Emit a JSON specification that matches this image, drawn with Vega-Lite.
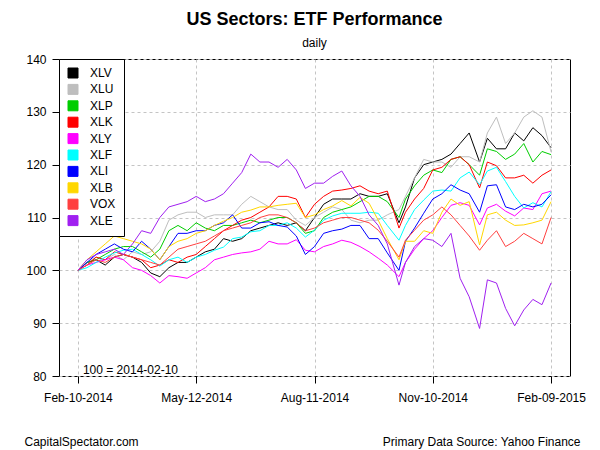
{
"$schema": "https://vega.github.io/schema/vega-lite/v6.json",
"width": 511, "height": 317,
"autosize": {"type": "none"},
"padding": {"left": 59, "top": 59, "right": 30, "bottom": 74},
"background": "white",
"title": {"text": "US Sectors: ETF Performance", "subtitle": "daily", "anchor": "middle", "frame": "group", "fontSize": 18, "fontWeight": "bold", "font": "Liberation Sans", "color": "black", "subtitleFontSize": 12, "subtitleFont": "Liberation Sans", "subtitleColor": "black", "offset": 4, "subtitlePadding": 9},
"config": {
 "font": "Liberation Sans",
 "view": {"stroke": "black", "strokeWidth": 1},
 "axis": {"domain": false, "tickColor": "black", "tickSize": 7, "tickWidth": 1, "labelColor": "black", "labelFontSize": 12, "labelFont": "Liberation Sans", "grid": true, "gridColor": "#C4C4C4", "gridDash": [3,3], "gridWidth": 1, "titleColor": "black", "titleFont": "Liberation Sans", "titleFontSize": 12, "titleFontWeight": "normal"}
},
"layer": [
{
 "data": {"values": [
{"d":"2014-02-10","s":"XLV","v":100},{"d":"2014-02-17","s":"XLV","v":101.5},{"d":"2014-02-24","s":"XLV","v":102},{"d":"2014-03-03","s":"XLV","v":101},{"d":"2014-03-10","s":"XLV","v":102.5},{"d":"2014-03-17","s":"XLV","v":103},{"d":"2014-03-24","s":"XLV","v":102.5},{"d":"2014-03-31","s":"XLV","v":101.5},{"d":"2014-04-07","s":"XLV","v":99.5},{"d":"2014-04-14","s":"XLV","v":98.8},{"d":"2014-04-21","s":"XLV","v":100.5},{"d":"2014-04-28","s":"XLV","v":101.5},{"d":"2014-05-05","s":"XLV","v":101.5},{"d":"2014-05-12","s":"XLV","v":102.5},{"d":"2014-05-19","s":"XLV","v":103.5},{"d":"2014-05-26","s":"XLV","v":104},{"d":"2014-06-02","s":"XLV","v":106},{"d":"2014-06-09","s":"XLV","v":105.5},{"d":"2014-06-16","s":"XLV","v":106},{"d":"2014-06-23","s":"XLV","v":107.5},{"d":"2014-06-30","s":"XLV","v":108},{"d":"2014-07-07","s":"XLV","v":108.5},{"d":"2014-07-14","s":"XLV","v":109},{"d":"2014-07-21","s":"XLV","v":108.5},{"d":"2014-07-28","s":"XLV","v":109},{"d":"2014-08-04","s":"XLV","v":107.5},{"d":"2014-08-11","s":"XLV","v":110},{"d":"2014-08-18","s":"XLV","v":112.5},{"d":"2014-08-25","s":"XLV","v":113.5},{"d":"2014-09-01","s":"XLV","v":113.5},{"d":"2014-09-08","s":"XLV","v":113.5},{"d":"2014-09-15","s":"XLV","v":114.5},{"d":"2014-09-22","s":"XLV","v":114},{"d":"2014-09-29","s":"XLV","v":114},{"d":"2014-10-06","s":"XLV","v":114.5},{"d":"2014-10-15","s":"XLV","v":109},{"d":"2014-10-20","s":"XLV","v":112},{"d":"2014-10-27","s":"XLV","v":117.5},{"d":"2014-11-03","s":"XLV","v":120},{"d":"2014-11-10","s":"XLV","v":120.5},{"d":"2014-11-17","s":"XLV","v":121},{"d":"2014-11-24","s":"XLV","v":122},{"d":"2014-12-01","s":"XLV","v":124},{"d":"2014-12-08","s":"XLV","v":126},{"d":"2014-12-16","s":"XLV","v":120.5},{"d":"2014-12-22","s":"XLV","v":125},{"d":"2014-12-29","s":"XLV","v":123},{"d":"2015-01-05","s":"XLV","v":123},{"d":"2015-01-12","s":"XLV","v":126},{"d":"2015-01-19","s":"XLV","v":124.5},{"d":"2015-01-26","s":"XLV","v":127},{"d":"2015-02-02","s":"XLV","v":125.5},{"d":"2015-02-09","s":"XLV","v":123.2},
{"d":"2014-02-10","s":"XLU","v":100},{"d":"2014-02-17","s":"XLU","v":101.5},{"d":"2014-02-24","s":"XLU","v":102.5},{"d":"2014-03-03","s":"XLU","v":102},{"d":"2014-03-10","s":"XLU","v":103},{"d":"2014-03-17","s":"XLU","v":102},{"d":"2014-03-24","s":"XLU","v":103.5},{"d":"2014-03-31","s":"XLU","v":103},{"d":"2014-04-07","s":"XLU","v":103.5},{"d":"2014-04-14","s":"XLU","v":105.5},{"d":"2014-04-21","s":"XLU","v":109.5},{"d":"2014-04-28","s":"XLU","v":110.5},{"d":"2014-05-05","s":"XLU","v":111},{"d":"2014-05-12","s":"XLU","v":111},{"d":"2014-05-19","s":"XLU","v":110},{"d":"2014-05-26","s":"XLU","v":110.5},{"d":"2014-06-02","s":"XLU","v":110.5},{"d":"2014-06-09","s":"XLU","v":110.5},{"d":"2014-06-16","s":"XLU","v":112.5},{"d":"2014-06-23","s":"XLU","v":114},{"d":"2014-06-30","s":"XLU","v":113},{"d":"2014-07-07","s":"XLU","v":112},{"d":"2014-07-14","s":"XLU","v":111.5},{"d":"2014-07-21","s":"XLU","v":111.5},{"d":"2014-07-28","s":"XLU","v":109.5},{"d":"2014-08-04","s":"XLU","v":108.5},{"d":"2014-08-11","s":"XLU","v":110},{"d":"2014-08-18","s":"XLU","v":111},{"d":"2014-08-25","s":"XLU","v":112},{"d":"2014-09-01","s":"XLU","v":111.5},{"d":"2014-09-08","s":"XLU","v":109.5},{"d":"2014-09-15","s":"XLU","v":109},{"d":"2014-09-22","s":"XLU","v":109.5},{"d":"2014-09-29","s":"XLU","v":109.5},{"d":"2014-10-06","s":"XLU","v":110.5},{"d":"2014-10-15","s":"XLU","v":111.5},{"d":"2014-10-20","s":"XLU","v":114},{"d":"2014-10-27","s":"XLU","v":117.5},{"d":"2014-11-03","s":"XLU","v":121},{"d":"2014-11-10","s":"XLU","v":120.5},{"d":"2014-11-17","s":"XLU","v":120.5},{"d":"2014-11-24","s":"XLU","v":119.5},{"d":"2014-12-01","s":"XLU","v":121.5},{"d":"2014-12-08","s":"XLU","v":121.5},{"d":"2014-12-16","s":"XLU","v":120.5},{"d":"2014-12-22","s":"XLU","v":126},{"d":"2014-12-29","s":"XLU","v":129},{"d":"2015-01-05","s":"XLU","v":124},{"d":"2015-01-12","s":"XLU","v":126},{"d":"2015-01-19","s":"XLU","v":129},{"d":"2015-01-26","s":"XLU","v":130.2},{"d":"2015-02-02","s":"XLU","v":129},{"d":"2015-02-09","s":"XLU","v":122.4},
{"d":"2014-02-10","s":"XLP","v":100},{"d":"2014-02-17","s":"XLP","v":101.5},{"d":"2014-02-24","s":"XLP","v":102},{"d":"2014-03-03","s":"XLP","v":103},{"d":"2014-03-10","s":"XLP","v":104},{"d":"2014-03-17","s":"XLP","v":104.5},{"d":"2014-03-24","s":"XLP","v":104.5},{"d":"2014-03-31","s":"XLP","v":103.5},{"d":"2014-04-07","s":"XLP","v":102.5},{"d":"2014-04-14","s":"XLP","v":104},{"d":"2014-04-21","s":"XLP","v":107.5},{"d":"2014-04-28","s":"XLP","v":108.5},{"d":"2014-05-05","s":"XLP","v":107.5},{"d":"2014-05-12","s":"XLP","v":109},{"d":"2014-05-19","s":"XLP","v":108},{"d":"2014-05-26","s":"XLP","v":107.5},{"d":"2014-06-02","s":"XLP","v":108.5},{"d":"2014-06-09","s":"XLP","v":108.5},{"d":"2014-06-16","s":"XLP","v":109},{"d":"2014-06-23","s":"XLP","v":109.5},{"d":"2014-06-30","s":"XLP","v":109},{"d":"2014-07-07","s":"XLP","v":109.5},{"d":"2014-07-14","s":"XLP","v":110},{"d":"2014-07-21","s":"XLP","v":110},{"d":"2014-07-28","s":"XLP","v":109},{"d":"2014-08-04","s":"XLP","v":107},{"d":"2014-08-11","s":"XLP","v":107.5},{"d":"2014-08-18","s":"XLP","v":110},{"d":"2014-08-25","s":"XLP","v":111},{"d":"2014-09-01","s":"XLP","v":111.5},{"d":"2014-09-08","s":"XLP","v":112},{"d":"2014-09-15","s":"XLP","v":113},{"d":"2014-09-22","s":"XLP","v":114},{"d":"2014-09-29","s":"XLP","v":114},{"d":"2014-10-06","s":"XLP","v":113},{"d":"2014-10-15","s":"XLP","v":110},{"d":"2014-10-20","s":"XLP","v":113.5},{"d":"2014-10-27","s":"XLP","v":116},{"d":"2014-11-03","s":"XLP","v":118},{"d":"2014-11-10","s":"XLP","v":119},{"d":"2014-11-17","s":"XLP","v":118.5},{"d":"2014-11-24","s":"XLP","v":121},{"d":"2014-12-01","s":"XLP","v":121.5},{"d":"2014-12-08","s":"XLP","v":120},{"d":"2014-12-16","s":"XLP","v":118},{"d":"2014-12-22","s":"XLP","v":123},{"d":"2014-12-29","s":"XLP","v":122.5},{"d":"2015-01-05","s":"XLP","v":121},{"d":"2015-01-12","s":"XLP","v":122},{"d":"2015-01-19","s":"XLP","v":124},{"d":"2015-01-26","s":"XLP","v":120.5},{"d":"2015-02-02","s":"XLP","v":122.5},{"d":"2015-02-09","s":"XLP","v":121.9},
{"d":"2014-02-10","s":"XLK","v":100},{"d":"2014-02-17","s":"XLK","v":101},{"d":"2014-02-24","s":"XLK","v":102.5},{"d":"2014-03-03","s":"XLK","v":102},{"d":"2014-03-10","s":"XLK","v":103.5},{"d":"2014-03-17","s":"XLK","v":103},{"d":"2014-03-24","s":"XLK","v":102.5},{"d":"2014-03-31","s":"XLK","v":102},{"d":"2014-04-07","s":"XLK","v":100.5},{"d":"2014-04-14","s":"XLK","v":101},{"d":"2014-04-21","s":"XLK","v":102},{"d":"2014-04-28","s":"XLK","v":101.5},{"d":"2014-05-05","s":"XLK","v":102.5},{"d":"2014-05-12","s":"XLK","v":103},{"d":"2014-05-19","s":"XLK","v":104.5},{"d":"2014-05-26","s":"XLK","v":106},{"d":"2014-06-02","s":"XLK","v":107.5},{"d":"2014-06-09","s":"XLK","v":108.5},{"d":"2014-06-16","s":"XLK","v":109.5},{"d":"2014-06-23","s":"XLK","v":110},{"d":"2014-06-30","s":"XLK","v":111},{"d":"2014-07-07","s":"XLK","v":112},{"d":"2014-07-14","s":"XLK","v":114},{"d":"2014-07-21","s":"XLK","v":114},{"d":"2014-07-28","s":"XLK","v":113.5},{"d":"2014-08-04","s":"XLK","v":110},{"d":"2014-08-11","s":"XLK","v":112.5},{"d":"2014-08-18","s":"XLK","v":114},{"d":"2014-08-25","s":"XLK","v":115},{"d":"2014-09-01","s":"XLK","v":115.2},{"d":"2014-09-08","s":"XLK","v":115.5},{"d":"2014-09-15","s":"XLK","v":116},{"d":"2014-09-22","s":"XLK","v":115},{"d":"2014-09-29","s":"XLK","v":114.5},{"d":"2014-10-06","s":"XLK","v":115},{"d":"2014-10-15","s":"XLK","v":108},{"d":"2014-10-20","s":"XLK","v":111},{"d":"2014-10-27","s":"XLK","v":113.5},{"d":"2014-11-03","s":"XLK","v":115.5},{"d":"2014-11-10","s":"XLK","v":119},{"d":"2014-11-17","s":"XLK","v":119.5},{"d":"2014-11-24","s":"XLK","v":121},{"d":"2014-12-01","s":"XLK","v":121.5},{"d":"2014-12-08","s":"XLK","v":120},{"d":"2014-12-16","s":"XLK","v":115.6},{"d":"2014-12-22","s":"XLK","v":120.5},{"d":"2014-12-29","s":"XLK","v":119.8},{"d":"2015-01-05","s":"XLK","v":117.5},{"d":"2015-01-12","s":"XLK","v":117.5},{"d":"2015-01-19","s":"XLK","v":118},{"d":"2015-01-26","s":"XLK","v":116.5},{"d":"2015-02-02","s":"XLK","v":118},{"d":"2015-02-09","s":"XLK","v":119},
{"d":"2014-02-10","s":"XLY","v":100},{"d":"2014-02-17","s":"XLY","v":101},{"d":"2014-02-24","s":"XLY","v":101.5},{"d":"2014-03-03","s":"XLY","v":102},{"d":"2014-03-10","s":"XLY","v":102.5},{"d":"2014-03-17","s":"XLY","v":102},{"d":"2014-03-24","s":"XLY","v":100.5},{"d":"2014-03-31","s":"XLY","v":100},{"d":"2014-04-07","s":"XLY","v":99},{"d":"2014-04-14","s":"XLY","v":97.6},{"d":"2014-04-21","s":"XLY","v":99},{"d":"2014-04-28","s":"XLY","v":98.8},{"d":"2014-05-05","s":"XLY","v":98.5},{"d":"2014-05-12","s":"XLY","v":99.5},{"d":"2014-05-19","s":"XLY","v":100.5},{"d":"2014-05-26","s":"XLY","v":102},{"d":"2014-06-02","s":"XLY","v":102.5},{"d":"2014-06-09","s":"XLY","v":103},{"d":"2014-06-16","s":"XLY","v":103.3},{"d":"2014-06-23","s":"XLY","v":103.5},{"d":"2014-06-30","s":"XLY","v":104},{"d":"2014-07-07","s":"XLY","v":105.5},{"d":"2014-07-14","s":"XLY","v":105},{"d":"2014-07-21","s":"XLY","v":105},{"d":"2014-07-28","s":"XLY","v":105.8},{"d":"2014-08-04","s":"XLY","v":103.8},{"d":"2014-08-11","s":"XLY","v":103.5},{"d":"2014-08-18","s":"XLY","v":104.5},{"d":"2014-08-25","s":"XLY","v":105},{"d":"2014-09-01","s":"XLY","v":105.7},{"d":"2014-09-08","s":"XLY","v":105.3},{"d":"2014-09-15","s":"XLY","v":104.5},{"d":"2014-09-22","s":"XLY","v":103.5},{"d":"2014-09-29","s":"XLY","v":102.3},{"d":"2014-10-06","s":"XLY","v":101},{"d":"2014-10-15","s":"XLY","v":98.8},{"d":"2014-10-20","s":"XLY","v":101.5},{"d":"2014-10-27","s":"XLY","v":104},{"d":"2014-11-03","s":"XLY","v":106},{"d":"2014-11-10","s":"XLY","v":107.5},{"d":"2014-11-17","s":"XLY","v":110},{"d":"2014-11-24","s":"XLY","v":112.3},{"d":"2014-12-01","s":"XLY","v":112.8},{"d":"2014-12-08","s":"XLY","v":112.3},{"d":"2014-12-16","s":"XLY","v":108.6},{"d":"2014-12-22","s":"XLY","v":111.8},{"d":"2014-12-29","s":"XLY","v":112.5},{"d":"2015-01-05","s":"XLY","v":111.2},{"d":"2015-01-12","s":"XLY","v":110.3},{"d":"2015-01-19","s":"XLY","v":111.8},{"d":"2015-01-26","s":"XLY","v":111.5},{"d":"2015-02-02","s":"XLY","v":114.5},{"d":"2015-02-09","s":"XLY","v":115},
{"d":"2014-02-10","s":"XLF","v":100},{"d":"2014-02-17","s":"XLF","v":100.5},{"d":"2014-02-24","s":"XLF","v":101.5},{"d":"2014-03-03","s":"XLF","v":102.5},{"d":"2014-03-10","s":"XLF","v":103.3},{"d":"2014-03-17","s":"XLF","v":103.8},{"d":"2014-03-24","s":"XLF","v":104},{"d":"2014-03-31","s":"XLF","v":103},{"d":"2014-04-07","s":"XLF","v":102},{"d":"2014-04-14","s":"XLF","v":100.8},{"d":"2014-04-21","s":"XLF","v":102},{"d":"2014-04-28","s":"XLF","v":102.5},{"d":"2014-05-05","s":"XLF","v":101.5},{"d":"2014-05-12","s":"XLF","v":102.5},{"d":"2014-05-19","s":"XLF","v":103},{"d":"2014-05-26","s":"XLF","v":103.8},{"d":"2014-06-02","s":"XLF","v":104.4},{"d":"2014-06-09","s":"XLF","v":106},{"d":"2014-06-16","s":"XLF","v":106.3},{"d":"2014-06-23","s":"XLF","v":107.3},{"d":"2014-06-30","s":"XLF","v":107.5},{"d":"2014-07-07","s":"XLF","v":108.5},{"d":"2014-07-14","s":"XLF","v":108.5},{"d":"2014-07-21","s":"XLF","v":109},{"d":"2014-07-28","s":"XLF","v":108},{"d":"2014-08-04","s":"XLF","v":106.3},{"d":"2014-08-11","s":"XLF","v":107.6},{"d":"2014-08-18","s":"XLF","v":109.5},{"d":"2014-08-25","s":"XLF","v":110.3},{"d":"2014-09-01","s":"XLF","v":110.8},{"d":"2014-09-08","s":"XLF","v":110.8},{"d":"2014-09-15","s":"XLF","v":110.8},{"d":"2014-09-22","s":"XLF","v":111},{"d":"2014-09-29","s":"XLF","v":110.8},{"d":"2014-10-06","s":"XLF","v":108.5},{"d":"2014-10-15","s":"XLF","v":105.7},{"d":"2014-10-20","s":"XLF","v":108.5},{"d":"2014-10-27","s":"XLF","v":111.5},{"d":"2014-11-03","s":"XLF","v":113.3},{"d":"2014-11-10","s":"XLF","v":115},{"d":"2014-11-17","s":"XLF","v":115.2},{"d":"2014-11-24","s":"XLF","v":115},{"d":"2014-12-01","s":"XLF","v":117.5},{"d":"2014-12-08","s":"XLF","v":118.6},{"d":"2014-12-16","s":"XLF","v":116.2},{"d":"2014-12-22","s":"XLF","v":118.8},{"d":"2014-12-29","s":"XLF","v":119.5},{"d":"2015-01-05","s":"XLF","v":116.8},{"d":"2015-01-12","s":"XLF","v":114},{"d":"2015-01-19","s":"XLF","v":111.8},{"d":"2015-01-26","s":"XLF","v":112.8},{"d":"2015-02-02","s":"XLF","v":112},{"d":"2015-02-09","s":"XLF","v":114.9},
{"d":"2014-02-10","s":"XLI","v":100},{"d":"2014-02-17","s":"XLI","v":101.5},{"d":"2014-02-24","s":"XLI","v":103},{"d":"2014-03-03","s":"XLI","v":104},{"d":"2014-03-10","s":"XLI","v":105},{"d":"2014-03-17","s":"XLI","v":104},{"d":"2014-03-24","s":"XLI","v":103.5},{"d":"2014-03-31","s":"XLI","v":105.5},{"d":"2014-04-07","s":"XLI","v":104},{"d":"2014-04-14","s":"XLI","v":102},{"d":"2014-04-21","s":"XLI","v":104.5},{"d":"2014-04-28","s":"XLI","v":107},{"d":"2014-05-05","s":"XLI","v":107},{"d":"2014-05-12","s":"XLI","v":107.5},{"d":"2014-05-19","s":"XLI","v":107.5},{"d":"2014-05-26","s":"XLI","v":108.5},{"d":"2014-06-02","s":"XLI","v":109},{"d":"2014-06-09","s":"XLI","v":110.5},{"d":"2014-06-16","s":"XLI","v":108},{"d":"2014-06-23","s":"XLI","v":108},{"d":"2014-06-30","s":"XLI","v":109},{"d":"2014-07-07","s":"XLI","v":109.2},{"d":"2014-07-14","s":"XLI","v":108.5},{"d":"2014-07-21","s":"XLI","v":108.2},{"d":"2014-07-28","s":"XLI","v":106.5},{"d":"2014-08-04","s":"XLI","v":103},{"d":"2014-08-11","s":"XLI","v":104.5},{"d":"2014-08-18","s":"XLI","v":107},{"d":"2014-08-25","s":"XLI","v":107.5},{"d":"2014-09-01","s":"XLI","v":107.8},{"d":"2014-09-08","s":"XLI","v":108.5},{"d":"2014-09-15","s":"XLI","v":108.5},{"d":"2014-09-22","s":"XLI","v":106},{"d":"2014-09-29","s":"XLI","v":106},{"d":"2014-10-06","s":"XLI","v":103.3},{"d":"2014-10-15","s":"XLI","v":100},{"d":"2014-10-20","s":"XLI","v":105.5},{"d":"2014-10-27","s":"XLI","v":108},{"d":"2014-11-03","s":"XLI","v":110.8},{"d":"2014-11-10","s":"XLI","v":113.5},{"d":"2014-11-17","s":"XLI","v":114.5},{"d":"2014-11-24","s":"XLI","v":116.2},{"d":"2014-12-01","s":"XLI","v":115.2},{"d":"2014-12-08","s":"XLI","v":114.5},{"d":"2014-12-16","s":"XLI","v":111},{"d":"2014-12-22","s":"XLI","v":116},{"d":"2014-12-29","s":"XLI","v":116.2},{"d":"2015-01-05","s":"XLI","v":112},{"d":"2015-01-12","s":"XLI","v":111.5},{"d":"2015-01-19","s":"XLI","v":112.5},{"d":"2015-01-26","s":"XLI","v":112},{"d":"2015-02-02","s":"XLI","v":112.5},{"d":"2015-02-09","s":"XLI","v":114.3},
{"d":"2014-02-10","s":"XLB","v":100},{"d":"2014-02-17","s":"XLB","v":102},{"d":"2014-02-24","s":"XLB","v":103.5},{"d":"2014-03-03","s":"XLB","v":105},{"d":"2014-03-10","s":"XLB","v":106.5},{"d":"2014-03-17","s":"XLB","v":106},{"d":"2014-03-24","s":"XLB","v":105.5},{"d":"2014-03-31","s":"XLB","v":105},{"d":"2014-04-07","s":"XLB","v":104},{"d":"2014-04-14","s":"XLB","v":102},{"d":"2014-04-21","s":"XLB","v":104.5},{"d":"2014-04-28","s":"XLB","v":105.5},{"d":"2014-05-05","s":"XLB","v":106},{"d":"2014-05-12","s":"XLB","v":107},{"d":"2014-05-19","s":"XLB","v":107.5},{"d":"2014-05-26","s":"XLB","v":108.5},{"d":"2014-06-02","s":"XLB","v":109.3},{"d":"2014-06-09","s":"XLB","v":110},{"d":"2014-06-16","s":"XLB","v":111},{"d":"2014-06-23","s":"XLB","v":111.4},{"d":"2014-06-30","s":"XLB","v":112},{"d":"2014-07-07","s":"XLB","v":112},{"d":"2014-07-14","s":"XLB","v":112.3},{"d":"2014-07-21","s":"XLB","v":112.5},{"d":"2014-07-28","s":"XLB","v":112.7},{"d":"2014-08-04","s":"XLB","v":110},{"d":"2014-08-11","s":"XLB","v":110.5},{"d":"2014-08-18","s":"XLB","v":111.5},{"d":"2014-08-25","s":"XLB","v":112.2},{"d":"2014-09-01","s":"XLB","v":113.2},{"d":"2014-09-08","s":"XLB","v":112.2},{"d":"2014-09-15","s":"XLB","v":113.8},{"d":"2014-09-22","s":"XLB","v":112.7},{"d":"2014-09-29","s":"XLB","v":109.5},{"d":"2014-10-06","s":"XLB","v":106},{"d":"2014-10-15","s":"XLB","v":102},{"d":"2014-10-20","s":"XLB","v":105.5},{"d":"2014-10-27","s":"XLB","v":105.5},{"d":"2014-11-03","s":"XLB","v":107.5},{"d":"2014-11-10","s":"XLB","v":107},{"d":"2014-11-17","s":"XLB","v":111},{"d":"2014-11-24","s":"XLB","v":113.5},{"d":"2014-12-01","s":"XLB","v":112.3},{"d":"2014-12-08","s":"XLB","v":113},{"d":"2014-12-16","s":"XLB","v":104.8},{"d":"2014-12-22","s":"XLB","v":110.5},{"d":"2014-12-29","s":"XLB","v":111},{"d":"2015-01-05","s":"XLB","v":109.5},{"d":"2015-01-12","s":"XLB","v":108.5},{"d":"2015-01-19","s":"XLB","v":108.6},{"d":"2015-01-26","s":"XLB","v":109},{"d":"2015-02-02","s":"XLB","v":109.5},{"d":"2015-02-09","s":"XLB","v":113},
{"d":"2014-02-10","s":"VOX","v":100},{"d":"2014-02-17","s":"VOX","v":101},{"d":"2014-02-24","s":"VOX","v":102},{"d":"2014-03-03","s":"VOX","v":101.5},{"d":"2014-03-10","s":"VOX","v":102.5},{"d":"2014-03-17","s":"VOX","v":103},{"d":"2014-03-24","s":"VOX","v":102.5},{"d":"2014-03-31","s":"VOX","v":102},{"d":"2014-04-07","s":"VOX","v":101.5},{"d":"2014-04-14","s":"VOX","v":101},{"d":"2014-04-21","s":"VOX","v":102.5},{"d":"2014-04-28","s":"VOX","v":104},{"d":"2014-05-05","s":"VOX","v":104.5},{"d":"2014-05-12","s":"VOX","v":105},{"d":"2014-05-19","s":"VOX","v":105.5},{"d":"2014-05-26","s":"VOX","v":106.5},{"d":"2014-06-02","s":"VOX","v":107.5},{"d":"2014-06-09","s":"VOX","v":108},{"d":"2014-06-16","s":"VOX","v":108.5},{"d":"2014-06-23","s":"VOX","v":109},{"d":"2014-06-30","s":"VOX","v":110},{"d":"2014-07-07","s":"VOX","v":110.5},{"d":"2014-07-14","s":"VOX","v":110.5},{"d":"2014-07-21","s":"VOX","v":110},{"d":"2014-07-28","s":"VOX","v":109},{"d":"2014-08-04","s":"VOX","v":107.5},{"d":"2014-08-11","s":"VOX","v":108},{"d":"2014-08-18","s":"VOX","v":109},{"d":"2014-08-25","s":"VOX","v":109.5},{"d":"2014-09-01","s":"VOX","v":110},{"d":"2014-09-08","s":"VOX","v":110},{"d":"2014-09-15","s":"VOX","v":109.5},{"d":"2014-09-22","s":"VOX","v":109},{"d":"2014-09-29","s":"VOX","v":107.6},{"d":"2014-10-06","s":"VOX","v":105.5},{"d":"2014-10-15","s":"VOX","v":102.5},{"d":"2014-10-20","s":"VOX","v":105.7},{"d":"2014-10-27","s":"VOX","v":107.6},{"d":"2014-11-03","s":"VOX","v":109.5},{"d":"2014-11-10","s":"VOX","v":110.5},{"d":"2014-11-17","s":"VOX","v":112},{"d":"2014-11-24","s":"VOX","v":110.5},{"d":"2014-12-01","s":"VOX","v":108.5},{"d":"2014-12-08","s":"VOX","v":106.5},{"d":"2014-12-16","s":"VOX","v":103.8},{"d":"2014-12-22","s":"VOX","v":105.7},{"d":"2014-12-29","s":"VOX","v":107.5},{"d":"2015-01-05","s":"VOX","v":104.5},{"d":"2015-01-12","s":"VOX","v":105.5},{"d":"2015-01-19","s":"VOX","v":107},{"d":"2015-01-26","s":"VOX","v":106},{"d":"2015-02-02","s":"VOX","v":105},{"d":"2015-02-09","s":"VOX","v":110},
{"d":"2014-02-10","s":"XLE","v":100},{"d":"2014-02-17","s":"XLE","v":102},{"d":"2014-02-24","s":"XLE","v":103},{"d":"2014-03-03","s":"XLE","v":103.5},{"d":"2014-03-10","s":"XLE","v":104},{"d":"2014-03-17","s":"XLE","v":103},{"d":"2014-03-24","s":"XLE","v":105},{"d":"2014-03-31","s":"XLE","v":107.5},{"d":"2014-04-07","s":"XLE","v":107},{"d":"2014-04-14","s":"XLE","v":110},{"d":"2014-04-21","s":"XLE","v":112},{"d":"2014-04-28","s":"XLE","v":112.5},{"d":"2014-05-05","s":"XLE","v":113},{"d":"2014-05-12","s":"XLE","v":114},{"d":"2014-05-19","s":"XLE","v":113},{"d":"2014-05-26","s":"XLE","v":113.5},{"d":"2014-06-02","s":"XLE","v":114.5},{"d":"2014-06-09","s":"XLE","v":116.5},{"d":"2014-06-16","s":"XLE","v":118.5},{"d":"2014-06-23","s":"XLE","v":122},{"d":"2014-06-30","s":"XLE","v":120.5},{"d":"2014-07-07","s":"XLE","v":120.5},{"d":"2014-07-14","s":"XLE","v":119.5},{"d":"2014-07-21","s":"XLE","v":121},{"d":"2014-07-28","s":"XLE","v":119},{"d":"2014-08-04","s":"XLE","v":115.5},{"d":"2014-08-11","s":"XLE","v":116.5},{"d":"2014-08-18","s":"XLE","v":116.5},{"d":"2014-08-25","s":"XLE","v":117.8},{"d":"2014-09-01","s":"XLE","v":118.8},{"d":"2014-09-08","s":"XLE","v":116},{"d":"2014-09-15","s":"XLE","v":114},{"d":"2014-09-22","s":"XLE","v":110.5},{"d":"2014-09-29","s":"XLE","v":108.5},{"d":"2014-10-06","s":"XLE","v":105},{"d":"2014-10-15","s":"XLE","v":97.2},{"d":"2014-10-20","s":"XLE","v":101.5},{"d":"2014-10-27","s":"XLE","v":104.5},{"d":"2014-11-03","s":"XLE","v":106},{"d":"2014-11-10","s":"XLE","v":105.7},{"d":"2014-11-17","s":"XLE","v":104.5},{"d":"2014-11-24","s":"XLE","v":107},{"d":"2014-12-01","s":"XLE","v":98.5},{"d":"2014-12-08","s":"XLE","v":95},{"d":"2014-12-16","s":"XLE","v":89},{"d":"2014-12-22","s":"XLE","v":98.2},{"d":"2014-12-29","s":"XLE","v":97.6},{"d":"2015-01-05","s":"XLE","v":92.8},{"d":"2015-01-12","s":"XLE","v":89.5},{"d":"2015-01-19","s":"XLE","v":92.5},{"d":"2015-01-26","s":"XLE","v":94.5},{"d":"2015-02-02","s":"XLE","v":93.5},{"d":"2015-02-09","s":"XLE","v":97.6}
 ]},
 "mark": {"type": "line", "strokeWidth": 1, "interpolate": "linear"},
 "encoding": {
  "x": {"field": "d", "type": "temporal",
   "scale": {"type": "utc", "domain": [{"year": 2014, "month": 1, "date": 26, "hours": 10, "minutes": 36, "utc": true}, {"year": 2015, "month": 2, "date": 23, "hours": 13, "minutes": 24, "utc": true}]},
   "axis": {"values": [{"year": 2014, "month": 2, "date": 10, "utc": true}, {"year": 2014, "month": 5, "date": 12, "utc": true}, {"year": 2014, "month": 8, "date": 11, "utc": true}, {"year": 2014, "month": 11, "date": 10, "utc": true}, {"year": 2015, "month": 2, "date": 9, "utc": true}],
    "format": "%b-%d-%Y", "labelFlush": false, "labelOverlap": false, "labelPadding": 9,
    "title": "CapitalSpectator.com", "titleAnchor": "start", "titleAlign": "left", "titleBaseline": "alphabetic", "titleX": -35, "titleY": 69}},
  "y": {"field": "v", "type": "quantitative",
   "scale": {"domain": [80, 140], "nice": false, "zero": false},
   "axis": {"values": [80, 90, 100, 110, 120, 130, 140], "labelPadding": 6,
    "title": "Primary Data Source: Yahoo Finance", "titleAngle": 0, "titleAlign": "right", "titleBaseline": "alphabetic", "titleX": 521, "titleY": 386}},
  "color": {"field": "s", "type": "nominal",
   "scale": {"domain": ["XLV", "XLU", "XLP", "XLK", "XLY", "XLF", "XLI", "XLB", "VOX", "XLE"], "range": ["#000000", "#BEBEBE", "#00CD00", "#FF0000", "#FF00FF", "#00FFFF", "#0000FF", "#FFD700", "#FF4040", "#A020F0"]},
   "legend": {"title": null, "orient": "none", "legendX": 0, "legendY": 0, "symbolType": "square", "symbolSize": 100, "symbolStrokeColor": "black", "symbolStrokeWidth": 1, "labelFontSize": 12, "labelColor": "black", "labelFont": "Liberation Sans", "labelOffset": 11, "padding": 8, "rowPadding": 2.4, "strokeColor": "black", "fillColor": "white",
    "encode": {"symbols": {"update": {"fill": {"scale": "color", "field": "value"}, "stroke": {"value": "black"}, "strokeWidth": {"value": 1}, "opacity": {"value": 1}}}}}}
 }
},
{
 "data": {"values": [{"note": "100 = 2014-02-10"}]},
 "mark": {"type": "text", "align": "left", "baseline": "alphabetic", "dx": 5, "dy": -2, "fontSize": 12, "font": "Liberation Sans", "color": "black"},
 "encoding": {
  "x": {"datum": {"year": 2014, "month": 2, "date": 10, "utc": true}, "type": "temporal"},
  "y": {"datum": 80, "type": "quantitative"},
  "text": {"field": "note"}
 }
}
]
}
